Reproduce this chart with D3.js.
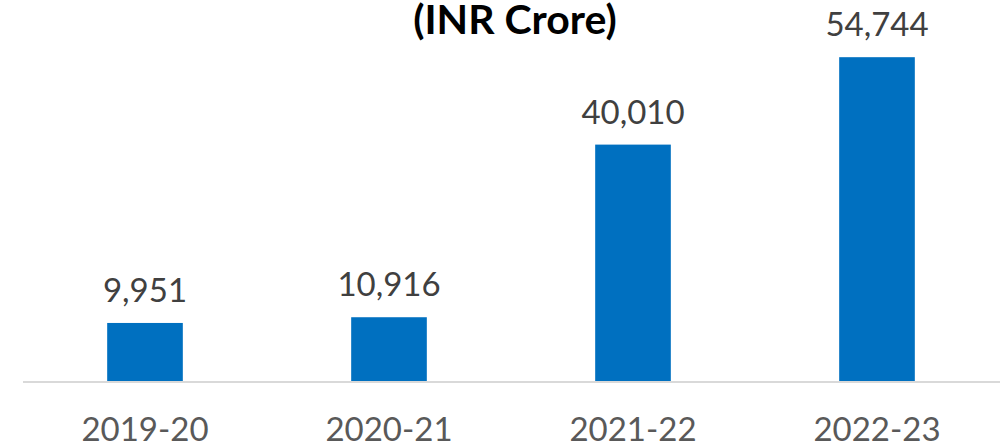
<!DOCTYPE html>
<html><head><meta charset="utf-8">
<script src="https://cdn.jsdelivr.net/npm/d3@7"></script>
<style>html,body{margin:0;padding:0;background:#fff;}svg{display:block;}</style>
</head><body>
<script>
const categories = ["2019-20", "2020-21", "2021-22", "2022-23"];
const values = [9951, 10916, 40010, 54744];
const title = "(INR Crore)";

const W = 1000, H = 447;
const svg = d3.select("body").append("svg").attr("width", W).attr("height", H);
const font = "Lato, 'Open Sans', sans-serif";

const x = d3.scaleBand().domain(categories).range([23, 999]).paddingInner(0.69).paddingOuter(0.345);
const y = d3.scaleLinear().domain([0, 60000]).range([382, 26]);

svg.append("text").attr("x", 515).attr("y", 34).attr("text-anchor", "middle")
  .attr("font-family", font).attr("font-weight", "bold").attr("font-size", 41)
  .attr("fill", "#000").text(title);

svg.selectAll("rect.bar").data(values).enter().append("rect").attr("class", "bar")
  .attr("x", (d, i) => x(categories[i]))
  .attr("width", x.bandwidth())
  .attr("y", d => y(d))
  .attr("height", d => y(0) - y(d))
  .attr("fill", "#0070C0");

const xAxis = svg.append("g").attr("transform", `translate(0,${y(0)})`)
  .call(d3.axisBottom(x).tickSize(0).tickPadding(36));
xAxis.select(".domain").attr("stroke", "#d9d9d9").attr("stroke-width", 2).attr("d", "M23,0H1000");
xAxis.selectAll("text").attr("font-family", font).attr("font-size", 33).attr("fill", "#595959");

svg.selectAll("text.val").data(values).enter().append("text").attr("class", "val")
  .attr("x", (d, i) => x(categories[i]) + x.bandwidth() / 2)
  .attr("y", d => y(d) - 21)
  .attr("text-anchor", "middle")
  .attr("font-family", font).attr("font-size", 33).attr("fill", "#404040")
  .text(d => d3.format(",")(d));
</script>
</body></html>
